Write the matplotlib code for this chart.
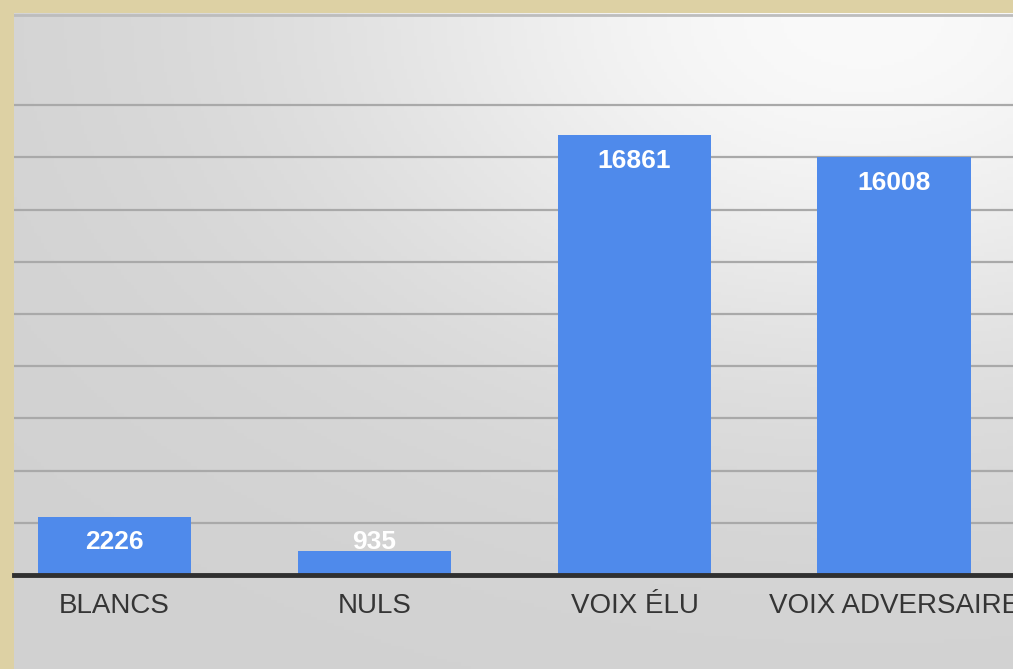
import numpy as np
import matplotlib.pyplot as plt

# Données
categories = ["BLANCS", "NULS", "VOIX ÉLU", "VOIX ADVERSAIRE"]
valeurs = [2226, 935, 16861, 16008]
grille = [2000, 4000, 6000, 8000, 10000, 12000, 14000, 16000, 18000]

W, H = 1013, 669
fig = plt.figure(figsize=(W / 100, H / 100), dpi=100)
fig.patch.set_facecolor("#ddd1a4")

# Panneau gris en dégradé (fond du graphique)
px0, py0 = 14, 13          # coin haut gauche du panneau
base_y = 575               # ligne de base des barres
ax_bg = fig.add_axes([px0 / W, 0, (W - px0) / W, (H - py0) / H])
xx, yy = np.meshgrid(np.linspace(0, 1, 300), np.linspace(0, 1, 200))
grad = 0.82 + 0.16 * np.exp(-((xx - 0.85) / 0.55) ** 2 - (yy / 0.55) ** 2)
ax_bg.imshow(np.dstack([grad] * 3), aspect="auto", extent=(0, 1, 1, 0))
ax_bg.axhline(0.003, color="#bdbdbd", lw=2)
ax_bg.set_xlim(0, 1)
ax_bg.set_ylim(1, 0)
ax_bg.axis("off")

# Axes principaux
ax = fig.add_axes([px0 / W, (H - base_y) / H, (W - px0) / W, (base_y - py0) / H])
ax.set_facecolor("none")
ax.set_xlim(-0.3865, 3.456)
ax.set_ylim(0, 2000 * (base_y - py0) / 52.2)

x = np.arange(len(categories))
ax.bar(x, valeurs, width=0.592, color="#4f8aeb", zorder=3)

ax.set_yticks(grille)
ax.yaxis.grid(True, color="#a9a9a9", lw=1.6, zorder=1)
ax.tick_params(axis="y", length=0, labelleft=False)

ax.set_xticks(x)
ax.set_xticklabels(categories, fontsize=20, color="#353535", family="Liberation Sans")
ax.tick_params(axis="x", length=0, pad=13)

for s in ["top", "right", "left"]:
    ax.spines[s].set_visible(False)
ax.spines["bottom"].set_linewidth(3.5)
ax.spines["bottom"].set_color("#303030")
ax.spines["bottom"].set_zorder(4)

# étiquettes : dans le haut de la barre, mais jamais trop près de la base
px_val = 2000 / 52.2
for xi, v in zip(x, valeurs):
    y_lab = max(v - 26 * px_val, 33 * px_val)
    ax.text(xi, y_lab, str(v), ha="center", va="center", color="white",
            fontsize=19, fontweight="bold", family="Liberation Sans", zorder=5)

fig.savefig("out.png", dpi=100)
